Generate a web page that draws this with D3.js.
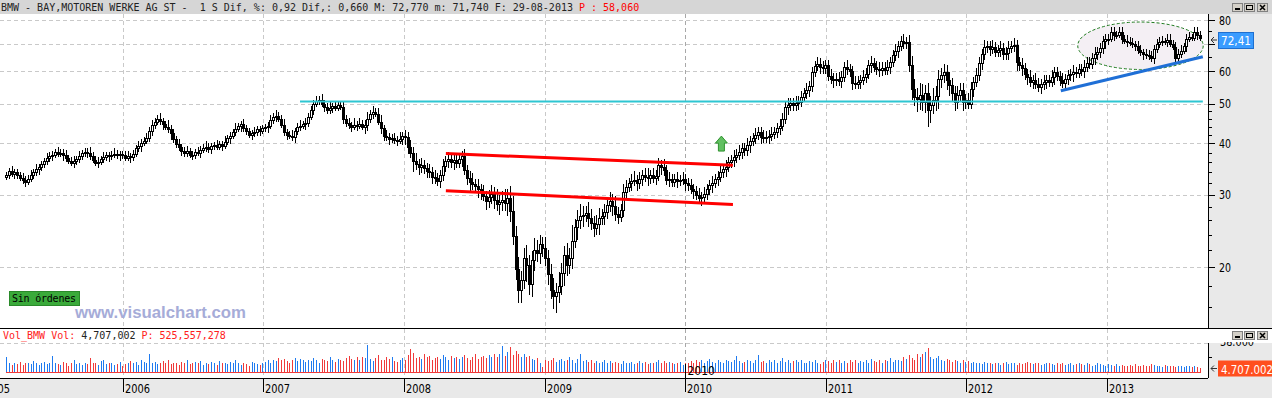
<!DOCTYPE html>
<html>
<head>
<meta charset="utf-8">
<script src="https://cdn.jsdelivr.net/npm/d3@7"></script>
<style>
  html, body { margin: 0; padding: 0; background: #fff; overflow: hidden; }
  svg { display: block; }
  .mono { font-family: 'DejaVu Sans Mono', monospace; font-size: 10px; white-space: pre; }
  .axis-lbl { font-family: 'Liberation Sans Narrow', 'DejaVu Sans Condensed', 'DejaVu Sans', sans-serif; font-size: 12px; }
</style>
</head>
<body>
<svg id="chart" width="1272" height="398"></svg>
<script>
// weekly closes, Mar 2005 .. Aug 2013
var closes = [
  // 2005
  33.5, 34.2, 33.8, 34.0, 33.5, 33.0, 32.6, 32.3, 32.8, 33.5,
  34.0, 34.6, 35.0, 35.6, 36.2, 36.8, 37.3, 37.6, 38.1, 37.8,
  38.0, 37.4, 36.8, 36.3, 35.9, 36.2, 36.6, 37.2, 37.9, 38.2,
  38.0, 37.3, 36.5, 35.9, 36.1, 36.6, 37.0, 37.4, 37.2, 37.6,
  37.8, 37.4, 37.7, 37.5,
  // 2006
  36.9, 37.2, 37.0, 37.8, 38.9, 39.4,
  40.2, 40.6, 41.2, 43.0, 44.4, 45.2, 46.0, 45.3, 44.6, 44.0,
  43.4, 42.5, 41.0, 39.8, 39.2, 38.4, 37.9, 38.3, 37.6, 37.5,
  38.1, 38.0, 38.6, 39.0, 39.3, 38.8, 39.4, 39.6, 39.3, 39.8,
  39.5, 40.4, 41.2, 41.8, 42.6, 43.5, 44.1, 44.6, 43.6, 42.8,
  42.0, 42.4, 42.6, 43.3, 43.0, 43.6,
  // 2007
  43.8, 44.2, 45.6, 46.5,
  46.8, 46.0, 44.5, 42.6, 42.0, 41.8, 41.4, 42.8, 43.9, 44.2,
  44.6, 44.8, 46.5, 48.3, 50.0, 50.8, 51.2, 50.0, 49.1, 48.2,
  48.8, 49.3, 48.9, 49.6, 49.2, 46.0, 44.8, 44.3, 44.0, 44.4,
  44.2, 44.7, 44.0, 44.3, 45.8, 47.2, 47.8, 47.3, 45.2, 43.6,
  41.8, 41.5, 41.0, 41.3, 40.8, 40.6, 41.0, 41.8, 41.4,
  // 2008
  39.2,
  38.0, 36.2, 35.6, 35.0, 35.4, 34.8, 34.3, 34.0, 33.2, 32.9,
  32.4, 33.5, 35.2, 36.3, 36.6, 36.0, 36.4, 35.9, 36.6, 37.2,
  34.5, 33.0, 32.2, 31.8, 31.5, 31.0, 30.4, 29.8, 29.0, 29.6,
  30.1, 29.2, 28.5, 28.8, 29.2, 28.6, 29.5, 27.4, 23.8, 19.8,
  17.6, 18.6, 21.0, 20.2, 18.2, 20.8, 22.0, 21.6, 22.8, 22.3,
  21.0,
  // 2009
  19.2, 17.6, 17.0, 17.4, 18.0, 19.3, 21.4, 20.2, 21.0,
  23.2, 25.0, 26.0, 26.6, 26.8, 27.1, 26.4, 25.6, 24.9, 25.5,
  26.3, 26.6, 27.2, 28.4, 29.0, 28.1, 27.0, 26.5, 27.6, 30.4,
  31.4, 32.0, 32.4, 32.6, 32.0, 32.8, 33.5, 33.2, 32.9, 33.5,
  33.0, 33.4, 35.4, 35.0, 34.4, 32.6, 32.8, 32.3, 32.7, 32.4,
  32.6, 32.8, 32.0,
  // 2010
  31.6, 31.0, 30.6, 30.0, 29.4, 29.6, 30.1,
  30.9, 31.6, 32.1, 32.8, 33.2, 34.0, 34.6, 35.1, 36.0, 36.5,
  37.0, 37.6, 38.2, 39.0, 38.5, 39.6, 40.6, 41.2, 42.0, 42.7,
  41.5, 41.3, 41.6, 41.8, 42.2, 42.6, 43.6, 44.2, 46.0, 49.0,
  49.6, 50.2, 49.6, 50.2, 50.6, 52.0, 53.0, 54.0, 55.2, 59.8,
  61.8, 62.6, 61.6, 61.0, 62.2,
  // 2011
  58.4, 57.6, 57.0, 57.6, 56.8,
  58.2, 61.5, 60.6, 60.0, 56.2, 56.0, 56.6, 57.2, 58.0, 59.2,
  62.0, 62.8, 61.6, 60.6, 60.4, 61.2, 60.5, 61.4, 63.2, 65.6,
  67.2, 69.2, 71.0, 70.2, 70.6, 62.2, 54.2, 52.0, 51.4, 52.6,
  50.6, 53.0, 48.2, 49.6, 51.0, 52.2, 57.6, 58.6, 59.6, 57.0,
  55.4, 53.0, 50.6, 52.6, 54.0, 50.6, 51.2, 50.0,
  // 2012
  54.2, 56.5,
  58.6, 63.0, 66.0, 68.6, 69.2, 68.0, 68.6, 67.0, 67.6, 68.2,
  66.0, 66.6, 68.4, 69.0, 69.6, 63.2, 62.0, 61.0, 59.0, 58.0,
  56.6, 57.2, 56.0, 55.0, 55.8, 56.6, 57.2, 56.6, 58.0, 59.6,
  58.4, 57.0, 56.2, 57.4, 58.6, 59.0, 59.8, 59.4, 60.6, 60.2,
  61.6, 63.0, 62.6, 64.6, 66.0, 66.8, 68.2, 71.0, 71.8, 72.0,
  // 2013
  74.6, 73.4, 73.6, 74.6, 72.0, 71.2, 70.8, 70.4, 69.8, 69.2,
  67.6, 66.8, 66.0, 65.6, 65.2, 64.6, 68.0, 69.8, 70.6, 71.0,
  70.8, 71.6, 70.0, 68.8, 64.6, 66.0, 67.4, 69.0, 72.0, 72.6,
  72.4, 74.6, 73.6, 72.41
];
var firstOpen = 33.2;

// upper / lower shadow of each week, % beyond the body
var hiWick = [
  2,2,3,2,2,2,3,2,2,3, 2,3,2,2,2,3,2,2,2,3, 2,2,3,2,2,3,2,3,2,2, 2,3,2,2,3,2,3,2,2,2, 3,2,2,2,
  2,3,2,2,2,3,2,2,3,2, 3,2,2,3,2,2,4,2,2,2, 3,2,2,3,2,2,2,3,2,2, 3,2,2,2,3,2,2,3,2,2, 2,3,2,2,3,2,2,2,3,2, 2,2,
  2,2,3,2,3,2,2,3,2,2, 3,2,2,3,2,3,2,2,2,3, 2,3,2,2,4,2,3,2,2,3, 2,3,2,4,2,3,2,3,4,2, 3,2,3,4,2,3,2,2,3,2, 4,2,3,
  3,4,3,5,3,4,3,3,4,3, 4,3,3,4,3,4,3,3,4,3, 3,4,3,4,5,3,4,3,4,3, 4,5,4,6,4,5,6,5,7,9, 6,7,5,6,8,6,5,7,6,5, 4,6,
  5,6,7,5,8,6,5,7,6,9, 5,6,7,5,4,6,5,4,5,6, 4,5,4,5,4,6,4,3,5,4, 3,4,5,3,4,3,4,5,3,4, 3,4,3,5,3,4,3,3,4,3, 4,3,
  3,4,3,3,4,3,4,3,3,4, 3,3,4,3,4,3,3,4,3,4, 3,3,4,3,3,4,3,3,4,3, 3,4,3,3,4,3,3,4,3,3, 4,3,3,3,4,3,3,3,4,3, 3,3,
  3,4,3,3,4,3,3,4,3,3, 4,3,3,4,3,3,4,3,3,4, 3,3,4,3,3,4,3,3,4,3, 4,5,6,5,7,6,5,6,5,7, 6,5,4,5,4,5,4,4,5,4, 4,3,4,
  4,3,4,3,3,4,3,3,4,3, 3,4,3,3,4,3,4,3,3,4, 3,3,4,3,4,3,3,4,3,3, 4,3,3,3,4,3,3,3,4,3, 3,3,4,3,3,3,4,3,3,3, 3,3,
  3,3,2,3,3,2,3,3,3,2, 3,3,2,3,3,3,2,3,3,3, 2,3,3,2,3,3,3,2,3,3, 2,3,3,2
];
var loWick = [
  2,2,2,3,2,2,2,3,2,2, 2,2,3,2,2,2,2,3,2,2, 2,3,2,2,2,3,2,2,2,2, 3,2,2,2,3,2,2,2,3,2, 2,2,3,2,
  2,2,3,2,2,2,3,2,2,2, 3,2,2,2,3,2,2,4,2,2, 2,3,2,2,2,3,2,2,3,2, 2,2,3,2,2,2,3,2,2,3, 2,2,2,3,2,2,2,3,2,2, 3,2,
  2,3,2,2,3,2,2,2,3,2, 2,3,2,2,2,3,2,2,3,2, 2,2,3,2,2,3,2,2,2,3, 2,2,3,2,3,2,2,4,3,2, 3,2,2,3,3,2,3,2,2,3, 2,3,4,
  4,3,6,3,4,3,3,4,3,4, 3,3,4,3,3,4,3,4,3,3, 4,3,4,5,3,4,5,4,3,5, 4,4,5,4,6,5,4,7,6,5, 6,7,7,5,9,6,7,6,5,6, 5,4,
  6,5,7,9,6,5,7,6,5,6, 4,7,5,6,4,5,4,5,4,6, 4,5,4,4,5,4,4,3,4,4, 3,4,3,4,3,4,3,4,3,3, 4,3,4,3,3,4,3,3,4,3, 3,4,
  3,3,4,3,3,4,3,3,3,4, 3,4,3,3,4,3,3,4,3,3, 4,3,3,4,3,3,3,4,3,3, 4,3,3,3,4,3,3,4,3,3, 3,4,3,3,3,4,3,3,3,4, 3,3,
  3,3,4,3,3,4,3,3,3,4, 3,3,4,3,3,3,4,3,3,4, 3,3,3,4,3,3,4,3,3,3, 4,6,5,7,6,5,6,9,7,5, 6,7,5,4,5,6,4,5,4,4, 5,4,3,
  3,4,3,3,4,3,3,4,3,3, 3,4,3,3,4,3,3,5,3,4, 3,4,3,4,3,3,4,3,4,3, 3,4,3,3,3,4,3,3,4,3, 3,3,4,3,3,3,4,3,3,3, 4,3,
  2,3,2,2,3,2,3,2,2,3, 2,2,3,2,2,2,3,2,2,2, 2,3,2,2,3,2,2,2,3,2, 2,2,3,2
];

// weekly volume, millions of shares
var volumes = [
  20,11,9,12,10,13,9,12,11,10, 14,12,9,11,13,10,12,21,12,10, 9,13,11,8,12,15,10,11,9,12, 10,18,11,12,9,14,16,10,12,11, 9,10,13,8,
  10,12,14,11,13,9,15,13,12,24, 11,13,10,12,14,12,16,10,11,12, 9,13,11,15,10,12,13,11,14,9, 12,10,13,11,9,14,12,11,10,13, 12,15,11,9,12,10,8,13,11,10, 9,12,
  13,15,12,16,14,18,15,17,14,12, 16,18,14,17,15,13,16,14,18,15, 12,17,16,14,19,15,13,17,16,14, 18,21,17,15,19,16,20,18,35,17, 14,18,22,16,15,19,17,20,14,13, 16,18,15,
  22,30,25,18,20,17,24,19,21,16, 18,20,17,22,19,16,21,18,20,17, 19,22,18,16,20,23,17,19,21,18, 22,20,23,19,24,34,21,26,33,22, 27,24,20,23,19,21,17,15,18,12, 6,16,
  14,16,18,13,15,17,14,16,19,15, 12,17,24,14,16,13,15,12,14,11, 13,15,12,14,11,13,12,10,14,12, 11,13,10,12,14,11,13,10,12,11, 13,15,12,14,11,13,12,10,11,13, 9,12,
  12,14,11,15,13,16,12,14,17,13, 12,15,13,11,16,14,13,15,21,14, 12,13,16,14,12,15,22,13,14,12, 15,13,16,12,14,18,13,15,12,14, 16,13,15,12,11,14,13,15,12,10, 13,15,
  14,12,15,13,16,12,14,11,15,13, 16,12,14,13,15,12,17,14,13,16, 12,15,14,18,13,16,15,14,20,17, 22,18,15,24,19,24,26,32,20,17, 18,21,16,14,17,15,13,16,14,12, 15,13,14,
  12,13,11,12,10,13,11,12,10,11, 12,9,11,13,10,12,11,9,12,10, 11,13,12,10,11,12,9,10,12,11, 10,9,11,10,12,9,10,11,9,10, 12,10,9,11,10,8,9,11,10,9, 8,10,
  9,8,10,7,9,8,7,9,8,10, 7,8,9,7,8,10,9,7,8,6, 9,7,8,7,6,8,7,6,7,8, 6,7,6,4.707002
];

var years = [2005, 2006, 2007, 2008, 2009, 2010, 2011, 2012, 2013];
var priceTicks = [20, 30, 40, 50, 60, 70, 80];
var priceLabels = [20, 30, 40, 50, 60, 80];   // 70 sits under the last-price tag
var priceMinor = [16, 18, 22, 24, 26, 28, 32, 34, 36, 38, 42, 44, 46, 48, 55, 65, 75];
var volTicks = [38];

// drawn studies: [date, price]
var cyanLevel = [['2007-04-06', 50.6], ['2013-09-07', 50.6]];
var redTop = [['2008-04-19', 37.8], ['2010-05-05', 35.4]];
var redBottom = [['2008-04-19', 30.7], ['2010-05-05', 28.4]];
var blueTrend = [['2012-09-03', 53.8], ['2013-09-07', 65.1]];
var ellipseBox = [['2012-10-17', 79.1], ['2013-09-08', 60.6]];
var buySignal = ['2010-04-05', 41.7];

var headerText = 'BMW - BAY,MOTOREN WERKE AG ST -  1 S Dif, %: 0,92 Dif,: 0,660 M: 72,770 m: 71,740 F: 29-08-2013';
var headerRed = 'P : 58,060';

var W = 1272, H = 398, PR = 1208;
var parse = d3.timeParse('%Y-%m-%d');
var svg = d3.select('#chart');

var weeks = d3.timeFriday.range(new Date(2005, 2, 4), new Date(2013, 7, 31));
var n = Math.min(weeks.length, closes.length);

var x = d3.scaleTime().domain([new Date(2006, 0, 1), new Date(2013, 0, 1)]).range([123, 1107]);
var y = d3.scaleLog().domain([20, 80]).range([267, 20]);
var yv = d3.scaleLinear().domain([0, 38]).range([371.5, 343]);

var bars = [];
for (var i = 0; i < n; i++) {
  var o = i === 0 ? firstOpen : closes[i - 1], c = closes[i];
  bars.push({
    date: weeks[i], open: o, close: c,
    high: Math.max(o, c) * (1 + hiWick[i] / 100),
    low: Math.min(o, c) * (1 - loWick[i] / 100),
    vol: volumes[i], up: c >= o
  });
}

// backgrounds
svg.append('rect').attr('width', W).attr('height', H).attr('fill', '#fff');
svg.append('rect').attr('width', W).attr('height', 14).attr('fill', '#d6d6d6');
svg.append('rect').attr('x', PR).attr('y', 14).attr('width', W - PR).attr('height', 314).attr('fill', '#e9e9e9');
svg.append('rect').attr('x', PR).attr('y', 343).attr('width', W - PR).attr('height', 35).attr('fill', '#e9e9e9');
svg.append('rect').attr('x', 0).attr('y', 378).attr('width', W).attr('height', 20).attr('fill', '#e9e9e9');

svg.append('clipPath').attr('id', 'plotclip').append('rect')
  .attr('x', 0).attr('y', 14).attr('width', PR).attr('height', 314);

// grid
var grid = svg.append('g').attr('stroke', '#c9c9c9').attr('stroke-dasharray', '4,3').attr('shape-rendering', 'crispEdges');
grid.selectAll('.hg').data(priceTicks).enter().append('line')
  .attr('x1', 0).attr('x2', PR)
  .attr('y1', function(d) { return Math.round(y(d)) + 0.5; })
  .attr('y2', function(d) { return Math.round(y(d)) + 0.5; });
grid.append('line').attr('x1', 0).attr('x2', PR).attr('y1', 343.5).attr('y2', 343.5);
grid.selectAll('.vg').data(years.slice(1)).enter().append('line')
  .attr('x1', function(d) { return Math.round(x(new Date(d, 0, 1))) + 0.5; })
  .attr('x2', function(d) { return Math.round(x(new Date(d, 0, 1))) + 0.5; })
  .attr('y1', 14).attr('y2', 378)
  .attr('stroke', function(d) { return d === 2010 ? '#a8a8a8' : null; });

var plot = svg.append('g').attr('clip-path', 'url(#plotclip)');

// ellipse study (under candles)
var ex0 = x(parse(ellipseBox[0][0])), ex1 = x(parse(ellipseBox[1][0]));
var ey0 = y(ellipseBox[0][1]), ey1 = y(ellipseBox[1][1]);
plot.append('ellipse')
  .attr('cx', (ex0 + ex1) / 2).attr('cy', (ey0 + ey1) / 2)
  .attr('rx', (ex1 - ex0) / 2).attr('ry', (ey1 - ey0) / 2)
  .attr('fill', '#f4eff4').attr('stroke', '#1d7a1d').attr('stroke-dasharray', '3,2');

// candles
var candle = plot.append('g').attr('shape-rendering', 'crispEdges')
  .selectAll('g').data(bars).enter().append('g');
candle.append('line')
  .attr('x1', function(d) { return Math.round(x(d.date)) + 0.5; })
  .attr('x2', function(d) { return Math.round(x(d.date)) + 0.5; })
  .attr('y1', function(d) { return Math.round(y(d.high)); })
  .attr('y2', function(d) { return Math.round(y(d.low)); })
  .attr('stroke', '#000');
candle.append('rect')
  .attr('x', function(d) { return Math.round(x(d.date)) - 0.5; })
  .attr('width', 2)
  .attr('y', function(d) { return Math.round(y(Math.max(d.open, d.close))) + 0.5; })
  .attr('height', function(d) { return Math.max(1, Math.round(y(Math.min(d.open, d.close))) - Math.round(y(Math.max(d.open, d.close)))); })
  .attr('fill', function(d) { return d.up ? '#fff' : '#000'; })
  .attr('stroke', '#000');

// studies over candles
var line = d3.line()
  .x(function(d) { return x(parse(d[0])); })
  .y(function(d) { return y(d[1]); });
plot.append('path').attr('d', line(cyanLevel)).attr('stroke', '#2ec6d2').attr('stroke-width', 2).attr('fill', 'none');
plot.append('path').attr('d', line(redTop)).attr('stroke', '#ff0000').attr('stroke-width', 3).attr('fill', 'none');
plot.append('path').attr('d', line(redBottom)).attr('stroke', '#ff0000').attr('stroke-width', 3).attr('fill', 'none');
plot.append('path').attr('d', line(blueTrend)).attr('stroke', '#1f6fd6').attr('stroke-width', 3).attr('fill', 'none');

var ax = x(parse(buySignal[0])), ay = y(buySignal[1]);
plot.append('path')
  .attr('d', 'M' + ax + ',' + ay + 'l6,7h-3v8h-6v-8h-3z')
  .attr('fill', '#62c062').attr('stroke', '#2f932f');

// volume
var vol = svg.append('g').attr('shape-rendering', 'crispEdges');
vol.selectAll('line').data(bars).enter().append('line')
  .attr('x1', function(d) { return Math.round(x(d.date)) + 0.5; })
  .attr('x2', function(d) { return Math.round(x(d.date)) + 0.5; })
  .attr('y1', yv(0)).attr('y2', function(d) { return Math.round(yv(d.vol)); })
  .attr('stroke', function(d) { return d.up ? '#1f7bf0' : '#f03a3a'; });
vol.append('line')
  .attr('x1', Math.round(x(bars[0].date))).attr('x2', Math.round(x(bars[n - 1].date)) + 1)
  .attr('y1', Math.round(yv(0)) + 0.5).attr('y2', Math.round(yv(0)) + 0.5)
  .attr('stroke', '#f03a3a');

// cursor at 2010 in the volume pane
var cx2010 = Math.round(x(new Date(2010, 0, 1))) + 0.5;
svg.append('line').attr('x1', cx2010).attr('x2', cx2010).attr('y1', 364).attr('y2', 392).attr('stroke', '#000');
svg.append('text').attr('class', 'axis-lbl').attr('x', cx2010 + 2).attr('y', 375).text('2010');

// frame lines
var frame = svg.append('g').attr('stroke', '#000').attr('shape-rendering', 'crispEdges');
frame.append('line').attr('x1', 0).attr('x2', W).attr('y1', 328.5).attr('y2', 328.5);
frame.append('line').attr('x1', 0).attr('x2', PR).attr('y1', 378.5).attr('y2', 378.5);
frame.append('line').attr('x1', PR + 0.5).attr('x2', PR + 0.5).attr('y1', 14).attr('y2', 328);
frame.append('line').attr('x1', PR + 0.5).attr('x2', PR + 0.5).attr('y1', 343).attr('y2', 378);

// price axis
var pa = svg.append('g');
pa.selectAll('.maj').data(priceTicks).enter().append('line')
  .attr('x1', PR).attr('x2', PR + 7)
  .attr('y1', function(d) { return Math.round(y(d)) + 0.5; })
  .attr('y2', function(d) { return Math.round(y(d)) + 0.5; })
  .attr('stroke', '#000').attr('shape-rendering', 'crispEdges');
pa.selectAll('.min').data(priceMinor).enter().append('line')
  .attr('x1', PR).attr('x2', PR + 4)
  .attr('y1', function(d) { return Math.round(y(d)) + 0.5; })
  .attr('y2', function(d) { return Math.round(y(d)) + 0.5; })
  .attr('stroke', '#000').attr('shape-rendering', 'crispEdges');
pa.selectAll('text').data(priceLabels).enter().append('text')
  .attr('class', 'axis-lbl')
  .attr('x', PR + 11).attr('y', function(d) { return y(d) + 4.5; })
  .attr('textLength', 12).attr('lengthAdjust', 'spacingAndGlyphs')
  .text(function(d) { return d; });

// last price tag
var last = bars[n - 1];
var ly = Math.round(y(last.close)) + 2;
svg.append('path').attr('d', 'M1217,' + ly + 'H1211M1214,' + (ly - 3) + 'L1211,' + ly + 'L1214,' + (ly + 3))
  .attr('stroke', '#333').attr('fill', 'none');
svg.append('rect').attr('x', 1218.5).attr('y', ly - 7.5).attr('width', 35).attr('height', 16)
  .attr('fill', '#3a9cff').attr('stroke', '#1e6fcf');
svg.append('text').attr('class', 'axis-lbl').attr('x', 1221).attr('y', ly + 5)
  .attr('fill', '#fff').attr('font-size', 13).attr('textLength', 30).attr('lengthAdjust', 'spacingAndGlyphs')
  .text(d3.format('.2f')(last.close).replace('.', ','));

// volume axis (top label mostly hidden under the pane title strip)
svg.selectAll('.vt').data(volTicks).enter().append('text')
  .attr('class', 'axis-lbl').attr('x', PR + 12).attr('y', function(d) { return yv(d) + 2.5; })
  .attr('textLength', 34).attr('lengthAdjust', 'spacingAndGlyphs')
  .text(function(d) { return d3.format(',')(d * 1000).replace(/,/g, '.'); });
svg.append('rect').attr('x', PR + 1).attr('y', 329).attr('width', W - PR).attr('height', 13).attr('fill', '#fff');
svg.append('line').attr('x1', PR).attr('x2', PR + 4).attr('y1', 357.5).attr('y2', 357.5).attr('stroke', '#000');
var vy = Math.round(yv(last.vol)) + 0.5;
svg.append('path').attr('d', 'M1217,' + vy + 'H1211M1214,' + (vy - 3) + 'L1211,' + vy + 'L1214,' + (vy + 3))
  .attr('stroke', '#333').attr('fill', 'none');
svg.append('rect').attr('x', 1218).attr('y', vy - 8).attr('width', 56).attr('height', 16).attr('fill', '#ff4f1f');
svg.append('text').attr('class', 'axis-lbl').attr('x', 1221).attr('y', vy + 5)
  .attr('fill', '#fff').attr('font-size', 13).attr('textLength', 52).attr('lengthAdjust', 'spacingAndGlyphs')
  .text(d3.format(',')(Math.round(last.vol * 1e6)).replace(/,/g, '.'));

// time axis
var ta = svg.append('g');
ta.selectAll('line').data(years).enter().append('line')
  .attr('x1', function(d) { return Math.round(x(new Date(d, 0, 1))) + 0.5; })
  .attr('x2', function(d) { return Math.round(x(new Date(d, 0, 1))) + 0.5; })
  .attr('y1', 378).attr('y2', 392).attr('stroke', '#000');
ta.selectAll('text').data(years).enter().append('text')
  .attr('class', 'axis-lbl')
  .attr('x', function(d) { return Math.round(x(new Date(d, 0, 1))) + 2; })
  .attr('y', 393)
  .attr('textLength', 25).attr('lengthAdjust', 'spacingAndGlyphs')
  .text(function(d) { return d; });

// header
var hdr = svg.append('text').attr('class', 'mono').attr('x', 1).attr('y', 10.5);
hdr.append('tspan').attr('fill', '#222').text(headerText + ' ');
hdr.append('tspan').attr('fill', '#ff0000').text(headerRed);

// volume title
var vt = svg.append('text').attr('class', 'mono').attr('x', 3).attr('y', 338.5);
vt.append('tspan').attr('fill', '#ff2020').text('Vol_BMW Vol: ');
vt.append('tspan').attr('fill', '#222').text(d3.format(',')(Math.round(last.vol * 1e6)) + ' ');
vt.append('tspan').attr('fill', '#ff2020').text('P: 525,557,278');

// window buttons
function winButtons(y0) {
  var g = svg.append('g').attr('transform', 'translate(1232,' + y0 + ')').attr('shape-rendering', 'crispEdges');
  [0, 12, 25].forEach(function(dx) {
    g.append('rect').attr('x', dx + 0.5).attr('y', 0.5).attr('width', 10).attr('height', 8)
      .attr('fill', '#d4d0c8').attr('stroke', '#808080');
  });
  g.append('rect').attr('x', 3).attr('y', 5).attr('width', 5).attr('height', 2).attr('fill', '#000');
  g.append('rect').attr('x', 14.5).attr('y', 2.5).attr('width', 6).attr('height', 4).attr('fill', 'none').attr('stroke', '#000');
  g.append('path').attr('d', 'M28,2L33,7M33,2L28,7').attr('stroke', '#000').attr('stroke-width', 1.5).attr('shape-rendering', 'auto');
}
winButtons(3);
winButtons(331);

// order box + watermark
svg.append('rect').attr('x', 9.5).attr('y', 291.5).attr('width', 70).attr('height', 14)
  .attr('fill', '#3aaa3a').attr('stroke', '#2a8a2a');
svg.append('text').attr('class', 'mono').attr('x', 12).attr('y', 302).attr('fill', '#000')
  .attr('font-size', 11).attr('textLength', 64).text('Sin órdenes');
svg.append('text').attr('x', 75).attr('y', 318)
  .attr('font-family', "'Liberation Sans', Arial, sans-serif").attr('font-weight', 'bold').attr('font-size', 16)
  .attr('fill', '#a6acd8').attr('textLength', 171).attr('lengthAdjust', 'spacingAndGlyphs')
  .text('www.visualchart.com');
</script>
</body>
</html>
